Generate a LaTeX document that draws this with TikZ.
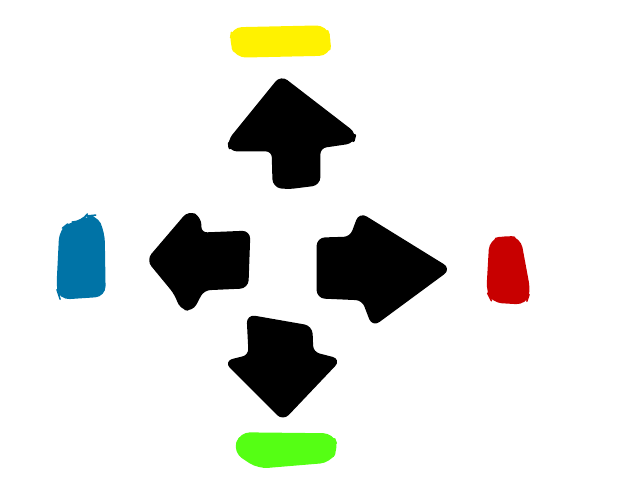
\documentclass[tikz,border=0pt]{standalone}
\usepackage{tikz}
\usetikzlibrary{calc}
\definecolor{markyellow}{RGB}{255,242,0}
\definecolor{markgreen}{RGB}{85,255,20}
\definecolor{markblue}{RGB}{0,115,166}
\definecolor{markred}{RGB}{200,0,0}

\begin{document}
\begin{tikzpicture}[
    x=0.025cm, y=-0.025cm,
    arrowshape/.style = {fill=black, draw=black, line width=2pt,
                         line join=round, rounded corners=5pt},
    blob/.style       = {line width=1pt, line join=round, rounded corners=7pt},
]
\useasboundingbox (0,0) rectangle (640,480);

%% Colour marks
\fill[blob, fill=markyellow, draw=markyellow]
    (232,28) -- (326,26) -- (331,40) -- (329,55) -- (236,57) -- (230,42) -- cycle;
\fill[blob, fill=markgreen, draw=markgreen]
    (240,433) -- (333,434) -- (338,448) -- (330,462) -- (258,468) -- (234,452) -- cycle;
\fill[blob, fill=markblue, draw=markblue]
    (60,230) -- (70,222) -- (82,222) -- (86,216) -- (96,215) -- (104,232)
    -- (105,296) -- (60,299) -- (57,290) -- cycle;
\fill[blob, fill=markred, draw=markred]
    (490,240) -- (505,236) -- (520,238) -- (530,292) -- (526,304) -- (492,302)
    -- (487,292) -- cycle;

%% Up arrow
\filldraw[arrowshape]
    (281,77) -- (355,134) -- (353,142) -- (319,147) -- (319,184) -- (287,188)
    -- (274,186) -- (273,150) -- (230,150) -- (229,141) -- cycle;

%% Left arrow
\filldraw[arrowshape]
    (148,260) -- (189,212) -- (200,218) -- (200,234) -- (249,232) -- (247,287)
    -- (203,289) -- (192,310) -- (181,308) -- (176,294) -- cycle;

%% Right arrow
\filldraw[arrowshape]
    (318,239) -- (351,238) -- (360,214) -- (449,269) -- (373,325) -- (363,299)
    -- (318,297) -- cycle;

%% Down arrow
\filldraw[arrowshape]
    (248,316) -- (311,327) -- (312,353) -- (339,360) -- (283,419) -- (226,362)
    -- (250,356) -- cycle;

\end{tikzpicture}
\end{document}
